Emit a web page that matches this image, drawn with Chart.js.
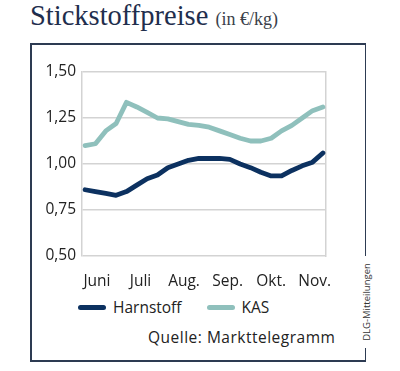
<!DOCTYPE html>
<html>
<head>
<meta charset="utf-8">
<script src="https://cdn.jsdelivr.net/npm/chart.js@4"></script>
<style>
  body { margin: 0; background: #fff; }
  #wrap { position: relative; width: 400px; height: 371px; overflow: hidden; font-family: "Open Sans", sans-serif; }
  #title { position: absolute; left: 30px; top: 1px; font-family: "Liberation Serif", serif; font-size: 28.5px; color: #1f2e4d; line-height: 30px; white-space: nowrap; }
  #title small { font-size: 18px; color: #3a3f4a; }
  .ln { position: absolute; background: #2d3b52; }
  #chartBox { position: absolute; left: 30px; top: 43px; }
  #legend { position: absolute; left: 78px; top: 296px; font-size: 15.5px; color: #222; white-space: nowrap; }
  #legend span.item { display: inline-block; margin-right: 25px; }
  #legend i { display: inline-block; width: 28px; height: 5px; border-radius: 3px; vertical-align: middle; margin-right: 7px; position: relative; top: -1px; }
  #source { position: absolute; left: 148px; top: 326px; font-size: 15.5px; letter-spacing: 0.5px; color: #222; white-space: nowrap; }
  #dlg { position: absolute; left: 366px; top: 302px; transform: translate(-50%, -50%) rotate(-90deg); font-size: 9.5px; color: #333; white-space: nowrap; }
</style>
</head>
<body>
<div id="wrap">
  <div id="title">Stickstoffpreise <small>(in €/kg)</small></div>
  <div class="ln" style="left:30px;top:43px;width:336px;height:1.5px"></div>
  <div class="ln" style="left:30px;top:43px;width:1.5px;height:319px"></div>
  <div class="ln" style="left:30px;top:360px;width:336px;height:1.5px"></div>
  <div class="ln" style="left:364.5px;top:43px;width:1.5px;height:213px"></div>
  <div class="ln" style="left:364.5px;top:348px;width:1.5px;height:13px"></div>
  <div id="dlg">DLG-Mitteilungen</div>
  <div id="chartBox"><canvas id="chart" width="333" height="250"></canvas></div>
  <div id="legend"></div>
  <div id="source">Quelle: Markttelegramm</div>
</div>
<script>
// weekly quotes, June to end of November
const harnstoff = [0.86, 0.85, 0.84, 0.83, 0.85, 0.885, 0.92, 0.94, 0.98, 1.00, 1.02, 1.03,
                   1.03, 1.03, 1.025, 1.00, 0.98, 0.955, 0.935, 0.935, 0.965, 0.99, 1.01, 1.06];
const kas = [1.10, 1.11, 1.18, 1.22, 1.335, 1.31, 1.28, 1.25, 1.245, 1.23, 1.215, 1.21,
             1.20, 1.18, 1.16, 1.14, 1.125, 1.125, 1.14, 1.18, 1.21, 1.25, 1.29, 1.31];
const months = ['Juni', 'Juli', 'Aug.', 'Sep.', 'Okt.', 'Nov.'];
const monthPos = [1.15, 5.36, 9.57, 13.78, 17.99, 22.2];
const yTicks = [0.5, 0.75, 1.0, 1.25, 1.5];

const seriesNames = ['Harnstoff', 'KAS'];
const seriesColors = ['#0c3160', '#8fc0bc'];

const ctx = document.getElementById('chart').getContext('2d');
const tickFont = { family: 'Open Sans', size: 15.5 };

const chart = new Chart(ctx, {
    type: 'line',
    data: {
        datasets: [harnstoff, kas].map(function (vals, k) {
            return {
                label: seriesNames[k],
                data: vals.map(function (v, i) { return { x: i, y: v }; }),
                borderColor: seriesColors[k],
                borderWidth: 4.8,
                borderJoinStyle: 'round',
                borderCapStyle: 'round',
                pointRadius: 0,
                tension: 0,
                yAxisID: 'y'
            };
        })
    },
    options: {
        responsive: false,
        animation: false,
        layout: { padding: { top: 29, right: 37, left: 0, bottom: 0 } },
        plugins: { legend: { display: false }, tooltip: { enabled: false } },
        scales: {
            x: {
                type: 'linear',
                min: -0.3,
                max: 23.3,
                grid: { display: false },
                border: { display: false },
                afterBuildTicks: function (axis) {
                    axis.ticks = monthPos.map(function (v) { return { value: v }; });
                },
                afterFit: function (axis) { axis.height = 37; },
                ticks: {
                    padding: 8,
                    maxRotation: 0,
                    autoSkip: false,
                    color: '#222',
                    font: tickFont,
                    callback: function (value) {
                        return months[monthPos.indexOf(value)];
                    }
                }
            },
            y: {
                min: 0.5,
                max: 1.5,
                afterBuildTicks: function (axis) {
                    axis.ticks = yTicks.map(function (v) { return { value: v }; });
                },
                afterFit: function (axis) { axis.width = 52; },
                grid: { color: '#d3d3d3', lineWidth: 1.5, drawTicks: false },
                border: { color: '#d3d3d3', width: 1.5 },
                ticks: {
                    padding: 6,
                    color: '#222',
                    font: tickFont,
                    callback: function (value) {
                        return value.toFixed(2).replace('.', ',');
                    }
                }
            },
            yRight: {
                position: 'right',
                min: 0.5,
                max: 1.5,
                afterFit: function (axis) { axis.width = 0; },
                grid: { display: false },
                border: { color: '#d3d3d3', width: 1.5 },
                ticks: { display: false }
            }
        }
    }
});

const legend = document.getElementById('legend');
chart.data.datasets.forEach(function (ds) {
    const item = document.createElement('span');
    item.className = 'item';
    item.innerHTML = '<i style="background:' + ds.borderColor + '"></i>' + ds.label;
    legend.appendChild(item);
});
</script>
</body>
</html>
